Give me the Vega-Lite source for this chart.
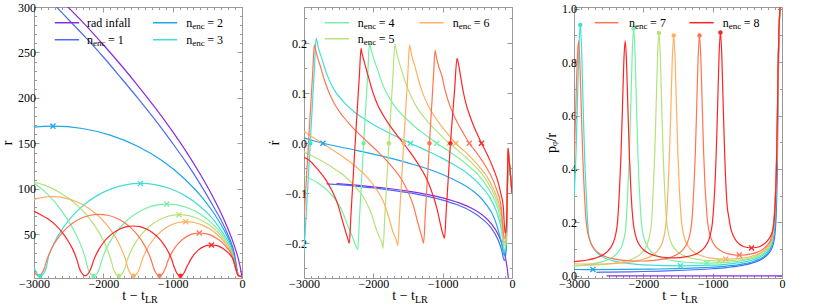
{
"$schema":"https://vega.github.io/schema/vega-lite/v6.json",
"background":"white",
"padding":{"left":0,"top":0,"right":5,"bottom":0},
"datasets":{
"orb":[
{"s":"rad","t":-2530,"r":301.5,"rd":-0.0808,"pp":0},{"s":"rad","t":-2250,"r":279.6,"rd":-0.084,"pp":0},{"s":"rad","t":-2000,"r":258.5,"rd":-0.0873,"pp":0},{"s":"rad","t":-1750,"r":236.5,"rd":-0.0912,"pp":0},{"s":"rad","t":-1500,"r":213.4,"rd":-0.0959,"pp":0},{"s":"rad","t":-1250,"r":189,"rd":-0.1018,"pp":0},{"s":"rad","t":-1000,"r":162.9,"rd":-0.1094,"pp":0},{"s":"rad","t":-800,"r":140.4,"rd":-0.1177,"pp":0},{"s":"rad","t":-600,"r":115.8,"rd":-0.1291,"pp":0},{"s":"rad","t":-400,"r":88.4,"rd":-0.147,"pp":0},{"s":"rad","t":-300,"r":73,"rd":-0.161,"pp":0},{"s":"rad","t":-200,"r":55.7,"rd":-0.1827,"pp":0},{"s":"rad","t":-150,"r":46,"rd":-0.1994,"pp":0},{"s":"rad","t":-100,"r":35.1,"rd":-0.2251,"pp":0},{"s":"rad","t":-70,"r":27.7,"rd":-0.2494,"pp":0},{"s":"rad","t":-50,"r":22.1,"rd":-0.2736,"pp":0},{"s":"rad","t":-30,"r":15.5,"rd":-0.3,"pp":0},{"s":"rad","t":-15,"r":9.5,"rd":-0.32,"pp":0},{"s":"rad","t":0,"r":3,"rd":-0.33,"pp":0},
{"s":"n1","t":-2675,"r":300,"rd":-0.0815,"pp":0.0133},{"s":"n1","t":-2500,"r":286,"rd":-0.083,"pp":0.014},{"s":"n1","t":-2250,"r":266,"rd":-0.0861,"pp":0.015},{"s":"n1","t":-2000,"r":245,"rd":-0.0896,"pp":0.0163},{"s":"n1","t":-1750,"r":222.5,"rd":-0.094,"pp":0.018},{"s":"n1","t":-1500,"r":199.5,"rd":-0.0991,"pp":0.02},{"s":"n1","t":-1250,"r":175.5,"rd":-0.1055,"pp":0.0228},{"s":"n1","t":-1000,"r":150,"rd":-0.1139,"pp":0.0267},{"s":"n1","t":-800,"r":128.5,"rd":-0.1228,"pp":0.0311},{"s":"n1","t":-600,"r":105,"rd":-0.1354,"pp":0.0381},{"s":"n1","t":-400,"r":79,"rd":-0.1551,"pp":0.0506},{"s":"n1","t":-300,"r":65.5,"rd":-0.1694,"pp":0.0611},{"s":"n1","t":-200,"r":49,"rd":-0.1938,"pp":0.0816},{"s":"n1","t":-150,"r":39.5,"rd":-0.2136,"pp":0.101},{"s":"n1","t":-110,"r":29,"rd":-0.235,"pp":0.138},{"s":"n1","t":-85,"r":18,"rd":-0.215,"pp":0.222},{"s":"n1","t":-68,"r":10,"rd":-0.12,"pp":0.4},{"s":"n1","t":-57,"r":6,"rd":-0.02,"pp":0.667},{"s":"n1","t":-45,"r":4.5,"rd":-0.03,"pp":0.889},{"s":"n1","t":-30,"r":4,"rd":-0.05,"pp":1},{"s":"n1","t":-15,"r":3.6,"rd":-0.075,"pp":1.111},{"s":"n1","t":0,"r":3,"rd":-0.1,"pp":1.333},
{"s":"n2","t":-3000,"r":167.9,"rd":0.011,"pp":0.0238},{"s":"n2","t":-2860,"r":168.8,"rd":0.005,"pp":0.0237},{"s":"n2","t":-2727,"r":169,"rd":0,"pp":0.0237},{"s":"n2","t":-2302,"r":166.4,"rd":-0.0125,"pp":0.024},{"s":"n2","t":-1891,"r":158.9,"rd":-0.0253,"pp":0.0252},{"s":"n2","t":-1505,"r":146.9,"rd":-0.0393,"pp":0.0272},{"s":"n2","t":-1155,"r":131.1,"rd":-0.0542,"pp":0.0305},{"s":"n2","t":-850,"r":112.5,"rd":-0.0723,"pp":0.0356},{"s":"n2","t":-595,"r":92.3,"rd":-0.0924,"pp":0.0433},{"s":"n2","t":-393,"r":71.8,"rd":-0.1188,"pp":0.0557},{"s":"n2","t":-243,"r":52.2,"rd":-0.1545,"pp":0.0766},{"s":"n2","t":-159,"r":38,"rd":-0.195,"pp":0.105},{"s":"n2","t":-110,"r":24,"rd":-0.225,"pp":0.167},{"s":"n2","t":-85,"r":14,"rd":-0.205,"pp":0.286},{"s":"n2","t":-68,"r":8,"rd":-0.1,"pp":0.5},{"s":"n2","t":-57,"r":5.4,"rd":-0.01,"pp":0.741},{"s":"n2","t":-45,"r":4.4,"rd":-0.03,"pp":0.909},{"s":"n2","t":-30,"r":4,"rd":-0.05,"pp":1},{"s":"n2","t":-15,"r":3.6,"rd":-0.075,"pp":1.111},{"s":"n2","t":0,"r":3,"rd":-0.1,"pp":1.333},
{"s":"n3","t":-3000,"r":13.8,"rd":-0.22,"pp":0.29},{"s":"n3","t":-2970,"r":8.49,"rd":-0.147,"pp":0.471},{"s":"n3","t":-2950,"r":6.14,"rd":-0.098,"pp":0.651},{"s":"n3","t":-2930,"r":4.73,"rd":-0.049,"pp":0.846},{"s":"n3","t":-2910,"r":4.26,"rd":0,"pp":0.939},{"s":"n3","t":-2890,"r":4.73,"rd":0.05,"pp":0.846},{"s":"n3","t":-2870,"r":6.14,"rd":0.1,"pp":0.651},{"s":"n3","t":-2850,"r":8.49,"rd":0.15,"pp":0.471},{"s":"n3","t":-2825,"r":12.76,"rd":0.21,"pp":0.313},{"s":"n3","t":-2791,"r":25.2,"rd":0.19,"pp":0.159},{"s":"n3","t":-2748,"r":34,"rd":0.172,"pp":0.118},{"s":"n3","t":-2670,"r":46.1,"rd":0.138,"pp":0.0868},{"s":"n3","t":-2566,"r":58.7,"rd":0.1075,"pp":0.0681},{"s":"n3","t":-2435,"r":71.2,"rd":0.0841,"pp":0.0562},{"s":"n3","t":-2277,"r":82.6,"rd":0.063,"pp":0.0484},{"s":"n3","t":-2096,"r":92.3,"rd":0.0457,"pp":0.0433},{"s":"n3","t":-1897,"r":99.7,"rd":0.0295,"pp":0.0401},{"s":"n3","t":-1684,"r":104.4,"rd":0.0145,"pp":0.0383},{"s":"n3","t":-1465,"r":106,"rd":0,"pp":0.0377},{"s":"n3","t":-1240,"r":104.4,"rd":-0.0142,"pp":0.0383},{"s":"n3","t":-1022,"r":99.8,"rd":-0.0288,"pp":0.0401},{"s":"n3","t":-818,"r":92.3,"rd":-0.0447,"pp":0.0433},{"s":"n3","t":-633,"r":82.6,"rd":-0.0616,"pp":0.0484},{"s":"n3","t":-471,"r":71.1,"rd":-0.0822,"pp":0.0563},{"s":"n3","t":-336,"r":58.6,"rd":-0.1051,"pp":0.0683},{"s":"n3","t":-229,"r":45.9,"rd":-0.1351,"pp":0.0871},{"s":"n3","t":-150,"r":33.8,"rd":-0.1757,"pp":0.118},{"s":"n3","t":-110,"r":21,"rd":-0.22,"pp":0.19},{"s":"n3","t":-85,"r":12.5,"rd":-0.2,"pp":0.32},{"s":"n3","t":-68,"r":7.5,"rd":-0.1,"pp":0.533},{"s":"n3","t":-57,"r":5.3,"rd":-0.01,"pp":0.755},{"s":"n3","t":-45,"r":4.4,"rd":-0.03,"pp":0.909},{"s":"n3","t":-30,"r":4,"rd":-0.05,"pp":1},{"s":"n3","t":-15,"r":3.6,"rd":-0.075,"pp":1.111},{"s":"n3","t":0,"r":3,"rd":-0.1,"pp":1.333},
{"s":"n4","t":-3000,"r":106.5,"rd":-0.065,"pp":0.0376},{"s":"n4","t":-2805,"r":94.2,"rd":-0.0792,"pp":0.0425},{"s":"n4","t":-2617,"r":77.5,"rd":-0.1012,"pp":0.0516},{"s":"n4","t":-2469,"r":60.5,"rd":-0.13,"pp":0.0661},{"s":"n4","t":-2358,"r":44.2,"rd":-0.169,"pp":0.0905},{"s":"n4","t":-2296,"r":32.4,"rd":-0.19,"pp":0.1235},{"s":"n4","t":-2254,"r":22.3,"rd":-0.205,"pp":0.179},{"s":"n4","t":-2225,"r":12.8,"rd":-0.213,"pp":0.3125},{"s":"n4","t":-2200,"r":8.55,"rd":-0.15,"pp":0.468},{"s":"n4","t":-2180,"r":6.2,"rd":-0.1,"pp":0.645},{"s":"n4","t":-2160,"r":4.79,"rd":-0.05,"pp":0.835},{"s":"n4","t":-2140,"r":4.32,"rd":0,"pp":0.926},{"s":"n4","t":-2120,"r":4.79,"rd":0.047,"pp":0.835},{"s":"n4","t":-2100,"r":6.2,"rd":0.094,"pp":0.645},{"s":"n4","t":-2080,"r":8.55,"rd":0.141,"pp":0.468},{"s":"n4","t":-2055,"r":12.8,"rd":0.2,"pp":0.3125},{"s":"n4","t":-2026,"r":20.6,"rd":0.185,"pp":0.194},{"s":"n4","t":-1995,"r":27.4,"rd":0.17,"pp":0.146},{"s":"n4","t":-1940,"r":36.8,"rd":0.148,"pp":0.109},{"s":"n4","t":-1866,"r":46.6,"rd":0.1176,"pp":0.0858},{"s":"n4","t":-1773,"r":56.3,"rd":0.092,"pp":0.071},{"s":"n4","t":-1661,"r":65.2,"rd":0.0689,"pp":0.0613},{"s":"n4","t":-1533,"r":72.7,"rd":0.05,"pp":0.055},{"s":"n4","t":-1391,"r":78.5,"rd":0.0322,"pp":0.051},{"s":"n4","t":-1241,"r":82.1,"rd":0.0159,"pp":0.0487},{"s":"n4","t":-1085,"r":83.3,"rd":0,"pp":0.048},{"s":"n4","t":-920,"r":82.1,"rd":-0.0151,"pp":0.0487},{"s":"n4","t":-761,"r":78.4,"rd":-0.0306,"pp":0.051},{"s":"n4","t":-611,"r":72.7,"rd":-0.0474,"pp":0.055},{"s":"n4","t":-475,"r":65.1,"rd":-0.0654,"pp":0.0614},{"s":"n4","t":-357,"r":56.2,"rd":-0.0873,"pp":0.0712},{"s":"n4","t":-258,"r":46.5,"rd":-0.1116,"pp":0.086},{"s":"n4","t":-180,"r":36.6,"rd":-0.1434,"pp":0.109},{"s":"n4","t":-140,"r":28.5,"rd":-0.18,"pp":0.14},{"s":"n4","t":-110,"r":19,"rd":-0.215,"pp":0.21},{"s":"n4","t":-85,"r":11.5,"rd":-0.195,"pp":0.348},{"s":"n4","t":-68,"r":7.3,"rd":-0.1,"pp":0.548},{"s":"n4","t":-57,"r":5.2,"rd":-0.01,"pp":0.769},{"s":"n4","t":-45,"r":4.4,"rd":-0.03,"pp":0.909},{"s":"n4","t":-30,"r":4,"rd":-0.05,"pp":1},{"s":"n4","t":-15,"r":3.6,"rd":-0.075,"pp":1.111},{"s":"n4","t":0,"r":3,"rd":-0.1,"pp":1.333},
{"s":"n5","t":-3000,"r":107.4,"rd":-0.017,"pp":0.0372},{"s":"n5","t":-2813,"r":103,"rd":-0.03,"pp":0.0388},{"s":"n5","t":-2611,"r":95.3,"rd":-0.0466,"pp":0.042},{"s":"n5","t":-2428,"r":85.3,"rd":-0.0642,"pp":0.0469},{"s":"n5","t":-2268,"r":73.5,"rd":-0.0857,"pp":0.0544},{"s":"n5","t":-2135,"r":60.6,"rd":-0.1096,"pp":0.066},{"s":"n5","t":-2029,"r":47.5,"rd":-0.1408,"pp":0.0842},{"s":"n5","t":-1951,"r":35,"rd":-0.175,"pp":0.114},{"s":"n5","t":-1907,"r":26,"rd":-0.19,"pp":0.154},{"s":"n5","t":-1876,"r":18.2,"rd":-0.2,"pp":0.22},{"s":"n5","t":-1860,"r":12.9,"rd":-0.21,"pp":0.31},{"s":"n5","t":-1835,"r":8.63,"rd":-0.148,"pp":0.463},{"s":"n5","t":-1815,"r":6.28,"rd":-0.099,"pp":0.637},{"s":"n5","t":-1795,"r":4.87,"rd":-0.049,"pp":0.821},{"s":"n5","t":-1775,"r":4.4,"rd":0,"pp":0.909},{"s":"n5","t":-1755,"r":4.87,"rd":0.047,"pp":0.821},{"s":"n5","t":-1735,"r":6.28,"rd":0.093,"pp":0.637},{"s":"n5","t":-1715,"r":8.63,"rd":0.14,"pp":0.463},{"s":"n5","t":-1690,"r":12.9,"rd":0.198,"pp":0.31},{"s":"n5","t":-1669,"r":18.2,"rd":0.185,"pp":0.22},{"s":"n5","t":-1644,"r":24,"rd":0.17,"pp":0.167},{"s":"n5","t":-1600,"r":32,"rd":0.15,"pp":0.125},{"s":"n5","t":-1540,"r":40.4,"rd":0.1235,"pp":0.099},{"s":"n5","t":-1464,"r":48.6,"rd":0.0967,"pp":0.0823},{"s":"n5","t":-1374,"r":56.2,"rd":0.0724,"pp":0.0712},{"s":"n5","t":-1270,"r":62.6,"rd":0.0525,"pp":0.0639},{"s":"n5","t":-1155,"r":67.5,"rd":0.0339,"pp":0.0593},{"s":"n5","t":-1033,"r":70.6,"rd":0.0167,"pp":0.0567},{"s":"n5","t":-907,"r":71.6,"rd":0,"pp":0.0559},{"s":"n5","t":-771,"r":70.6,"rd":-0.0155,"pp":0.0567},{"s":"n5","t":-638,"r":67.5,"rd":-0.0315,"pp":0.0593},{"s":"n5","t":-514,"r":62.5,"rd":-0.0488,"pp":0.064},{"s":"n5","t":-402,"r":56.1,"rd":-0.0673,"pp":0.0713},{"s":"n5","t":-304,"r":48.5,"rd":-0.0898,"pp":0.0825},{"s":"n5","t":-222,"r":40.2,"rd":-0.1148,"pp":0.0995},{"s":"n5","t":-157,"r":31.8,"rd":-0.1475,"pp":0.126},{"s":"n5","t":-110,"r":18,"rd":-0.205,"pp":0.222},{"s":"n5","t":-85,"r":11,"rd":-0.19,"pp":0.364},{"s":"n5","t":-68,"r":7.2,"rd":-0.1,"pp":0.556},{"s":"n5","t":-57,"r":5.2,"rd":-0.01,"pp":0.769},{"s":"n5","t":-45,"r":4.4,"rd":-0.03,"pp":0.909},{"s":"n5","t":-30,"r":4,"rd":-0.05,"pp":1},{"s":"n5","t":-15,"r":3.6,"rd":-0.075,"pp":1.111},{"s":"n5","t":0,"r":3,"rd":-0.1,"pp":1.333},
{"s":"n6","t":-3000,"r":88.3,"rd":0.024,"pp":0.0453},{"s":"n6","t":-2911,"r":90.1,"rd":0.0157,"pp":0.0444},{"s":"n6","t":-2737,"r":91.4,"rd":0,"pp":0.0438},{"s":"n6","t":-2562,"r":90.1,"rd":-0.0156,"pp":0.0444},{"s":"n6","t":-2393,"r":86.1,"rd":-0.0316,"pp":0.0465},{"s":"n6","t":-2234,"r":79.8,"rd":-0.0491,"pp":0.0501},{"s":"n6","t":-2090,"r":71.5,"rd":-0.0677,"pp":0.0559},{"s":"n6","t":-1965,"r":61.7,"rd":-0.0903,"pp":0.0648},{"s":"n6","t":-1860,"r":51,"rd":-0.1154,"pp":0.0784},{"s":"n6","t":-1777,"r":40.2,"rd":-0.1484,"pp":0.0995},{"s":"n6","t":-1716,"r":29.9,"rd":-0.178,"pp":0.134},{"s":"n6","t":-1681,"r":22.4,"rd":-0.19,"pp":0.179},{"s":"n6","t":-1657,"r":15.9,"rd":-0.2,"pp":0.252},{"s":"n6","t":-1647,"r":13,"rd":-0.205,"pp":0.308},{"s":"n6","t":-1622,"r":8.68,"rd":-0.145,"pp":0.461},{"s":"n6","t":-1602,"r":6.33,"rd":-0.096,"pp":0.632},{"s":"n6","t":-1582,"r":4.92,"rd":-0.048,"pp":0.813},{"s":"n6","t":-1562,"r":4.45,"rd":0,"pp":0.899},{"s":"n6","t":-1542,"r":4.92,"rd":0.047,"pp":0.813},{"s":"n6","t":-1522,"r":6.33,"rd":0.093,"pp":0.632},{"s":"n6","t":-1502,"r":8.68,"rd":0.14,"pp":0.461},{"s":"n6","t":-1478,"r":12.8,"rd":0.197,"pp":0.3125},{"s":"n6","t":-1461,"r":16.7,"rd":0.185,"pp":0.24},{"s":"n6","t":-1440,"r":21.8,"rd":0.172,"pp":0.183},{"s":"n6","t":-1402,"r":28.9,"rd":0.155,"pp":0.138},{"s":"n6","t":-1351,"r":36.3,"rd":0.1283,"pp":0.11},{"s":"n6","t":-1287,"r":43.5,"rd":0.1004,"pp":0.092},{"s":"n6","t":-1209,"r":50.2,"rd":0.0752,"pp":0.0797},{"s":"n6","t":-1121,"r":55.9,"rd":0.0545,"pp":0.0716},{"s":"n6","t":-1023,"r":60.3,"rd":0.0352,"pp":0.0663},{"s":"n6","t":-919,"r":63,"rd":0.0173,"pp":0.0635},{"s":"n6","t":-812,"r":63.9,"rd":0,"pp":0.0626},{"s":"n6","t":-691,"r":63,"rd":-0.0154,"pp":0.0635},{"s":"n6","t":-573,"r":60.2,"rd":-0.0313,"pp":0.0664},{"s":"n6","t":-462,"r":55.9,"rd":-0.0486,"pp":0.0716},{"s":"n6","t":-362,"r":50.1,"rd":-0.067,"pp":0.0798},{"s":"n6","t":-275,"r":43.4,"rd":-0.0895,"pp":0.0922},{"s":"n6","t":-202,"r":36.1,"rd":-0.1143,"pp":0.111},{"s":"n6","t":-144,"r":28.6,"rd":-0.147,"pp":0.14},{"s":"n6","t":-110,"r":18,"rd":-0.2,"pp":0.222},{"s":"n6","t":-85,"r":11,"rd":-0.185,"pp":0.364},{"s":"n6","t":-68,"r":7.2,"rd":-0.1,"pp":0.556},{"s":"n6","t":-57,"r":5.2,"rd":-0.01,"pp":0.769},{"s":"n6","t":-45,"r":4.4,"rd":-0.03,"pp":0.909},{"s":"n6","t":-30,"r":4,"rd":-0.05,"pp":1},{"s":"n6","t":-15,"r":3.6,"rd":-0.075,"pp":1.111},{"s":"n6","t":0,"r":3,"rd":-0.1,"pp":1.333},
{"s":"n7","t":-3000,"r":9.52,"rd":-0.153,"pp":0.42},{"s":"n7","t":-2975,"r":6.43,"rd":-0.094,"pp":0.622},{"s":"n7","t":-2955,"r":5.02,"rd":-0.047,"pp":0.797},{"s":"n7","t":-2935,"r":4.55,"rd":0,"pp":0.879},{"s":"n7","t":-2915,"r":5.02,"rd":0.047,"pp":0.797},{"s":"n7","t":-2895,"r":6.43,"rd":0.094,"pp":0.622},{"s":"n7","t":-2875,"r":8.78,"rd":0.141,"pp":0.456},{"s":"n7","t":-2850,"r":13.05,"rd":0.197,"pp":0.307},{"s":"n7","t":-2829,"r":18.4,"rd":0.185,"pp":0.217},{"s":"n7","t":-2804,"r":24.2,"rd":0.172,"pp":0.165},{"s":"n7","t":-2759,"r":32.3,"rd":0.152,"pp":0.124},{"s":"n7","t":-2699,"r":40.7,"rd":0.1237,"pp":0.0983},{"s":"n7","t":-2624,"r":48.9,"rd":0.0968,"pp":0.0818},{"s":"n7","t":-2533,"r":56.5,"rd":0.0725,"pp":0.0708},{"s":"n7","t":-2429,"r":63,"rd":0.0526,"pp":0.0635},{"s":"n7","t":-2314,"r":67.9,"rd":0.0339,"pp":0.0589},{"s":"n7","t":-2191,"r":71,"rd":0.0167,"pp":0.0563},{"s":"n7","t":-2065,"r":72,"rd":0,"pp":0.0556},{"s":"n7","t":-1938,"r":71,"rd":-0.0166,"pp":0.0563},{"s":"n7","t":-1815,"r":67.9,"rd":-0.0337,"pp":0.0589},{"s":"n7","t":-1699,"r":63,"rd":-0.0523,"pp":0.0635},{"s":"n7","t":-1594,"r":56.5,"rd":-0.0722,"pp":0.0708},{"s":"n7","t":-1503,"r":48.9,"rd":-0.0963,"pp":0.0818},{"s":"n7","t":-1427,"r":40.6,"rd":-0.1231,"pp":0.0985},{"s":"n7","t":-1366,"r":32.2,"rd":-0.155,"pp":0.124},{"s":"n7","t":-1321,"r":24.2,"rd":-0.178,"pp":0.165},{"s":"n7","t":-1296,"r":18.4,"rd":-0.19,"pp":0.217},{"s":"n7","t":-1275,"r":12.95,"rd":-0.2,"pp":0.309},{"s":"n7","t":-1250,"r":8.68,"rd":-0.141,"pp":0.461},{"s":"n7","t":-1230,"r":6.33,"rd":-0.094,"pp":0.632},{"s":"n7","t":-1210,"r":4.92,"rd":-0.047,"pp":0.813},{"s":"n7","t":-1190,"r":4.45,"rd":0,"pp":0.899},{"s":"n7","t":-1170,"r":4.92,"rd":0.047,"pp":0.813},{"s":"n7","t":-1150,"r":6.33,"rd":0.093,"pp":0.632},{"s":"n7","t":-1130,"r":8.68,"rd":0.14,"pp":0.461},{"s":"n7","t":-1110,"r":12,"rd":0.186,"pp":0.333},{"s":"n7","t":-1097,"r":14.2,"rd":0.178,"pp":0.282},{"s":"n7","t":-1081,"r":18.2,"rd":0.167,"pp":0.22},{"s":"n7","t":-1053,"r":23.8,"rd":0.152,"pp":0.168},{"s":"n7","t":-1015,"r":29.6,"rd":0.1371,"pp":0.135},{"s":"n7","t":-967,"r":35.4,"rd":0.1073,"pp":0.113},{"s":"n7","t":-910,"r":40.7,"rd":0.0804,"pp":0.0983},{"s":"n7","t":-845,"r":45.2,"rd":0.0583,"pp":0.0885},{"s":"n7","t":-773,"r":48.6,"rd":0.0376,"pp":0.0823},{"s":"n7","t":-695,"r":50.8,"rd":0.0185,"pp":0.0787},{"s":"n7","t":-616,"r":51.5,"rd":0,"pp":0.0777},{"s":"n7","t":-526,"r":50.8,"rd":-0.0164,"pp":0.0787},{"s":"n7","t":-438,"r":48.6,"rd":-0.0334,"pp":0.0823},{"s":"n7","t":-356,"r":45.1,"rd":-0.0517,"pp":0.0887},{"s":"n7","t":-281,"r":40.6,"rd":-0.0714,"pp":0.0985},{"s":"n7","t":-216,"r":35.2,"rd":-0.0953,"pp":0.114},{"s":"n7","t":-162,"r":29.4,"rd":-0.1218,"pp":0.136},{"s":"n7","t":-110,"r":17,"rd":-0.19,"pp":0.235},{"s":"n7","t":-85,"r":10.5,"rd":-0.175,"pp":0.381},{"s":"n7","t":-68,"r":7,"rd":-0.1,"pp":0.571},{"s":"n7","t":-57,"r":5.2,"rd":-0.01,"pp":0.769},{"s":"n7","t":-45,"r":4.4,"rd":-0.03,"pp":0.909},{"s":"n7","t":-30,"r":4,"rd":-0.05,"pp":1},{"s":"n7","t":-15,"r":3.6,"rd":-0.075,"pp":1.111},{"s":"n7","t":0,"r":3,"rd":-0.1,"pp":1.333},
{"s":"n8","t":-3000,"r":75.5,"rd":-0.028,"pp":0.053},{"s":"n8","t":-2930,"r":72.6,"rd":-0.0335,"pp":0.0551},{"s":"n8","t":-2805,"r":67.3,"rd":-0.052,"pp":0.0594},{"s":"n8","t":-2692,"r":60.4,"rd":-0.0718,"pp":0.0662},{"s":"n8","t":-2594,"r":52.2,"rd":-0.0958,"pp":0.0766},{"s":"n8","t":-2512,"r":43.3,"rd":-0.1224,"pp":0.0924},{"s":"n8","t":-2446,"r":34.3,"rd":-0.155,"pp":0.117},{"s":"n8","t":-2398,"r":25.7,"rd":-0.178,"pp":0.156},{"s":"n8","t":-2371,"r":19.5,"rd":-0.19,"pp":0.205},{"s":"n8","t":-2347,"r":13,"rd":-0.2,"pp":0.308},{"s":"n8","t":-2322,"r":8.78,"rd":-0.141,"pp":0.456},{"s":"n8","t":-2302,"r":6.43,"rd":-0.094,"pp":0.622},{"s":"n8","t":-2282,"r":5.02,"rd":-0.047,"pp":0.797},{"s":"n8","t":-2262,"r":4.55,"rd":0,"pp":0.879},{"s":"n8","t":-2242,"r":5.02,"rd":0.045,"pp":0.797},{"s":"n8","t":-2222,"r":6.43,"rd":0.089,"pp":0.622},{"s":"n8","t":-2202,"r":8.78,"rd":0.134,"pp":0.456},{"s":"n8","t":-2177,"r":13.05,"rd":0.19,"pp":0.307},{"s":"n8","t":-2164,"r":15.8,"rd":0.18,"pp":0.253},{"s":"n8","t":-2144,"r":20.5,"rd":0.17,"pp":0.195},{"s":"n8","t":-2109,"r":27,"rd":0.152,"pp":0.148},{"s":"n8","t":-2062,"r":33.8,"rd":0.1284,"pp":0.118},{"s":"n8","t":-2003,"r":40.5,"rd":0.1005,"pp":0.0988},{"s":"n8","t":-1932,"r":46.6,"rd":0.0753,"pp":0.0858},{"s":"n8","t":-1851,"r":51.9,"rd":0.0546,"pp":0.0771},{"s":"n8","t":-1761,"r":55.9,"rd":0.0352,"pp":0.0716},{"s":"n8","t":-1666,"r":58.4,"rd":0.0173,"pp":0.0685},{"s":"n8","t":-1567,"r":59.2,"rd":0,"pp":0.0676},{"s":"n8","t":-1471,"r":58.4,"rd":-0.0178,"pp":0.0685},{"s":"n8","t":-1378,"r":55.8,"rd":-0.0362,"pp":0.0717},{"s":"n8","t":-1290,"r":51.8,"rd":-0.0561,"pp":0.0772},{"s":"n8","t":-1211,"r":46.6,"rd":-0.0775,"pp":0.0858},{"s":"n8","t":-1142,"r":40.4,"rd":-0.1034,"pp":0.099},{"s":"n8","t":-1084,"r":33.7,"rd":-0.13,"pp":0.119},{"s":"n8","t":-1039,"r":26.9,"rd":-0.158,"pp":0.149},{"s":"n8","t":-1005,"r":20.4,"rd":-0.178,"pp":0.196},{"s":"n8","t":-986,"r":15.7,"rd":-0.186,"pp":0.255},{"s":"n8","t":-973,"r":12.9,"rd":-0.19,"pp":0.31},{"s":"n8","t":-948,"r":8.62,"rd":-0.134,"pp":0.464},{"s":"n8","t":-928,"r":6.27,"rd":-0.089,"pp":0.638},{"s":"n8","t":-908,"r":4.86,"rd":-0.045,"pp":0.823},{"s":"n8","t":-888,"r":4.39,"rd":0,"pp":0.911},{"s":"n8","t":-868,"r":4.86,"rd":0.036,"pp":0.823},{"s":"n8","t":-848,"r":6.27,"rd":0.072,"pp":0.638},{"s":"n8","t":-828,"r":8.6,"rd":0.107,"pp":0.465},{"s":"n8","t":-793,"r":14.9,"rd":0.17,"pp":0.268},{"s":"n8","t":-767,"r":18.3,"rd":0.155,"pp":0.219},{"s":"n8","t":-739,"r":22.5,"rd":0.132,"pp":0.178},{"s":"n8","t":-703,"r":26.7,"rd":0.1032,"pp":0.15},{"s":"n8","t":-660,"r":30.5,"rd":0.0774,"pp":0.131},{"s":"n8","t":-611,"r":33.8,"rd":0.0561,"pp":0.118},{"s":"n8","t":-557,"r":36.2,"rd":0.0362,"pp":0.11},{"s":"n8","t":-500,"r":37.8,"rd":0.0178,"pp":0.106},{"s":"n8","t":-440,"r":38.3,"rd":0,"pp":0.1044},{"s":"n8","t":-377,"r":37.8,"rd":-0.0171,"pp":0.106},{"s":"n8","t":-317,"r":36.2,"rd":-0.0348,"pp":0.11},{"s":"n8","t":-260,"r":33.7,"rd":-0.054,"pp":0.119},{"s":"n8","t":-208,"r":30.4,"rd":-0.0745,"pp":0.132},{"s":"n8","t":-163,"r":26.6,"rd":-0.0994,"pp":0.15},{"s":"n8","t":-126,"r":22.4,"rd":-0.127,"pp":0.179},{"s":"n8","t":-100,"r":15.5,"rd":-0.18,"pp":0.258},{"s":"n8","t":-80,"r":10,"rd":-0.165,"pp":0.4},{"s":"n8","t":-68,"r":7,"rd":-0.1,"pp":0.571},{"s":"n8","t":-57,"r":5.2,"rd":-0.01,"pp":0.769},{"s":"n8","t":-45,"r":4.4,"rd":-0.03,"pp":0.909},{"s":"n8","t":-30,"r":4,"rd":-0.05,"pp":1},{"s":"n8","t":-15,"r":3.6,"rd":-0.075,"pp":1.111},{"s":"n8","t":0,"r":3,"rd":-0.1,"pp":1.333}
],
"mk":[
{"s":"n2","k":"apo","t":-2727,"r":169,"rd":0,"pp":0.0237},{"s":"n3","k":"apo","t":-1465,"r":106,"rd":0,"pp":0.0377},{"s":"n4","k":"apo","t":-1085,"r":83.3,"rd":0,"pp":0.048},{"s":"n5","k":"apo","t":-907,"r":71.6,"rd":0,"pp":0.0559},{"s":"n6","k":"apo","t":-812,"r":63.9,"rd":0,"pp":0.0626},{"s":"n7","k":"apo","t":-616,"r":51.5,"rd":0,"pp":0.0777},{"s":"n8","k":"apo","t":-440,"r":38.3,"rd":0,"pp":0.1044},
{"s":"n3","k":"peri","t":-2910,"r":4.26,"rd":0,"pp":0.939},{"s":"n4","k":"peri","t":-2140,"r":4.32,"rd":0,"pp":0.926},{"s":"n5","k":"peri","t":-1775,"r":4.4,"rd":0,"pp":0.909},{"s":"n6","k":"peri","t":-1562,"r":4.45,"rd":0,"pp":0.899},{"s":"n7","k":"peri","t":-1190,"r":4.45,"rd":0,"pp":0.899},{"s":"n8","k":"peri","t":-888,"r":4.39,"rd":0,"pp":0.911}
],
"leg":[
{"p":1,"s":"rad","x1":-2700,"x2":-2350,"tx":-2235,"y":282.7,"lab":"rad infall","eq":""},
{"p":1,"s":"n1","x1":-2700,"x2":-2350,"tx":-2235,"y":264,"lab":"n","eq":"= 1"},
{"p":1,"s":"n2","x1":-1285,"x2":-935,"tx":-805,"y":282.7,"lab":"n","eq":"= 2"},
{"p":1,"s":"n3","x1":-1285,"x2":-935,"tx":-805,"y":264,"lab":"n","eq":"= 3"},
{"p":2,"s":"n4","x1":-2700,"x2":-2350,"tx":-2225,"y":0.2415,"lab":"n","eq":"= 4"},
{"p":2,"s":"n5","x1":-2700,"x2":-2350,"tx":-2225,"y":0.2094,"lab":"n","eq":"= 5"},
{"p":2,"s":"n6","x1":-1335,"x2":-985,"tx":-855,"y":0.2415,"lab":"n","eq":"= 6"},
{"p":3,"s":"n7","x1":-2700,"x2":-2360,"tx":-2205,"y":0.9473,"lab":"n","eq":"= 7"},
{"p":3,"s":"n8","x1":-1335,"x2":-985,"tx":-855,"y":0.9473,"lab":"n","eq":"= 8"}
]
},
"spacing":62,
"bounds":"flush",
"hconcat":[
{"width":208,"height":271,
"layer":[
{"data":{"name":"orb"},"mark":{"type":"line","interpolate":"monotone","strokeWidth":1.2,"clip":true},
"encoding":{
"x":{"field":"t","type":"quantitative","scale":{"domain":[-3000,0],"nice":false,"zero":false},
"axis":{"orient":"bottom","title":null,"values":[-3000,-2900,-2800,-2700,-2600,-2500,-2400,-2300,-2200,-2100,-2000,-1900,-1800,-1700,-1600,-1500,-1400,-1300,-1200,-1100,-1000,-900,-800,-700,-600,-500,-400,-300,-200,-100,0],"format":"d","labelExpr":"datum.value % 1000 === 0 ? datum.label : ''","tickSize":{"condition":{"test":"datum.value % 1000 === 0","value":-5},"value":-2.5},"labelPadding":5}},
"y":{"field":"r","type":"quantitative","scale":{"domain":[2,300],"nice":false,"zero":false},
"axis":{"orient":"left","title":"r","values":[10,20,30,40,50,60,70,80,90,100,110,120,130,140,150,160,170,180,190,200,210,220,230,240,250,260,270,280,290,300],"format":"d","labelExpr":"datum.value % 50 === 0 ? datum.label : ''","tickSize":{"condition":{"test":"datum.value % 50 === 0","value":-5},"value":-2.5},"labelPadding":3.5,"titlePadding":3}},
"color":{"field":"s","type":"nominal","scale":{"domain":["rad","n1","n2","n3","n4","n5","n6","n7","n8"],"range":["#8a2be2","#4a6cf0","#1ea5ea","#3fe0d4","#76f0a6","#b5e37a","#ffb061","#ff7452","#ff2424"]},"legend":null}}},
{"data":{"name":"mk"},"transform":[{"filter":"datum.k === 'apo'"}],"mark":{"type":"point","shape":"M-1,-1L1,1M-1,1L1,-1","size":26,"strokeWidth":1.3,"filled":false,"opacity":1},
"encoding":{
"x":{"field":"t","type":"quantitative","axis":{"orient":"top","title":null,"labels":false,"minExtent":0,"maxExtent":0,"values":[-3000,-2900,-2800,-2700,-2600,-2500,-2400,-2300,-2200,-2100,-2000,-1900,-1800,-1700,-1600,-1500,-1400,-1300,-1200,-1100,-1000,-900,-800,-700,-600,-500,-400,-300,-200,-100,0],"tickSize":{"condition":{"test":"datum.value % 1000 === 0","value":-5},"value":-2.5}}},
"y":{"field":"r","type":"quantitative","axis":{"orient":"right","title":null,"labels":false,"minExtent":0,"maxExtent":0,"values":[10,20,30,40,50,60,70,80,90,100,110,120,130,140,150,160,170,180,190,200,210,220,230,240,250,260,270,280,290,300],"tickSize":{"condition":{"test":"datum.value % 50 === 0","value":-5},"value":-2.5}}},
"color":{"field":"s","type":"nominal","legend":null}}},
{"data":{"name":"mk"},"transform":[{"filter":"datum.k === 'peri'"}],"mark":{"type":"circle","size":20,"opacity":1},
"encoding":{"x":{"field":"t","type":"quantitative","axis":null},"y":{"field":"r","type":"quantitative","axis":null},"color":{"field":"s","type":"nominal","legend":null}}},
{"data":{"name":"leg"},"transform":[{"filter":"datum.p === 1"}],"mark":{"type":"rule","strokeWidth":1.5},
"encoding":{"x":{"field":"x1","type":"quantitative","axis":null},"x2":{"field":"x2"},"y":{"field":"y","type":"quantitative","axis":null},"color":{"field":"s","type":"nominal","legend":null}}},
{"data":{"name":"leg"},"transform":[{"filter":"datum.p === 1"}],"mark":{"type":"text","align":"left","baseline":"middle","fontSize":12},
"encoding":{"x":{"field":"tx","type":"quantitative","axis":null},"y":{"field":"y","type":"quantitative","axis":null},"text":{"field":"lab"}}},
{"data":{"name":"leg"},"transform":[{"filter":"datum.p === 1 && datum.eq !== ''"}],"mark":{"type":"text","text":"enc","align":"left","baseline":"middle","fontSize":9,"dx":6,"dy":3.5},
"encoding":{"x":{"field":"tx","type":"quantitative","axis":null},"y":{"field":"y","type":"quantitative","axis":null}}},
{"data":{"name":"leg"},"transform":[{"filter":"datum.p === 1 && datum.eq !== ''"}],"mark":{"type":"text","align":"left","baseline":"middle","fontSize":12,"dx":21},
"encoding":{"x":{"field":"tx","type":"quantitative","axis":null},"y":{"field":"y","type":"quantitative","axis":null},"text":{"field":"eq"}}},
{"data":{"values":[{}]},"mark":{"type":"text","text":"t − t","align":"right","baseline":"alphabetic","fontSize":14},
"encoding":{"x":{"datum":-1400,"type":"quantitative","axis":null},"y":{"datum":-22.2,"type":"quantitative","axis":null}}},
{"data":{"values":[{}]},"mark":{"type":"text","text":"LR","align":"left","baseline":"alphabetic","fontSize":10,"dy":3},
"encoding":{"x":{"datum":-1400,"type":"quantitative","axis":null},"y":{"datum":-22.2,"type":"quantitative","axis":null}}}
],
"resolve":{"axis":{"x":"independent","y":"independent"}}},
{"width":208,"height":271,
"layer":[
{"data":{"name":"orb"},"mark":{"type":"line","interpolate":"monotone","strokeWidth":1.2,"clip":true},
"encoding":{
"x":{"field":"t","type":"quantitative","scale":{"domain":[-3000,0],"nice":false,"zero":false},
"axis":{"orient":"bottom","title":null,"values":[-3000,-2900,-2800,-2700,-2600,-2500,-2400,-2300,-2200,-2100,-2000,-1900,-1800,-1700,-1600,-1500,-1400,-1300,-1200,-1100,-1000,-900,-800,-700,-600,-500,-400,-300,-200,-100,0],"format":"d","labelExpr":"datum.value % 1000 === 0 ? datum.label : ''","tickSize":{"condition":{"test":"datum.value % 1000 === 0","value":-5},"value":-2.5},"labelPadding":5}},
"y":{"field":"rd","type":"quantitative","scale":{"domain":[-0.27,0.273],"nice":false,"zero":false},
"axis":{"orient":"left","title":"ṙ","values":[-0.25,-0.2,-0.15,-0.1,-0.05,0,0.05,0.1,0.15,0.2,0.25],"format":".1f","labelExpr":"abs(datum.value*10 - round(datum.value*10)) < 0.001 ? datum.label : ''","tickSize":{"condition":{"test":"abs(datum.value*10 - round(datum.value*10)) < 0.001","value":-5},"value":-2.5},"labelPadding":2.5,"titlePadding":3}},
"color":{"field":"s","type":"nominal","scale":{"domain":["rad","n1","n2","n3","n4","n5","n6","n7","n8"],"range":["#8a2be2","#4a6cf0","#1ea5ea","#3fe0d4","#76f0a6","#b5e37a","#ffb061","#ff7452","#ff2424"]},"legend":null}}},
{"data":{"name":"mk"},"transform":[{"filter":"datum.k === 'apo'"}],"mark":{"type":"point","shape":"M-1,-1L1,1M-1,1L1,-1","size":26,"strokeWidth":1.3,"filled":false,"opacity":1},
"encoding":{
"x":{"field":"t","type":"quantitative","axis":{"orient":"top","title":null,"labels":false,"minExtent":0,"maxExtent":0,"values":[-3000,-2900,-2800,-2700,-2600,-2500,-2400,-2300,-2200,-2100,-2000,-1900,-1800,-1700,-1600,-1500,-1400,-1300,-1200,-1100,-1000,-900,-800,-700,-600,-500,-400,-300,-200,-100,0],"tickSize":{"condition":{"test":"datum.value % 1000 === 0","value":-5},"value":-2.5}}},
"y":{"field":"rd","type":"quantitative","axis":{"orient":"right","title":null,"labels":false,"minExtent":0,"maxExtent":0,"values":[-0.25,-0.2,-0.15,-0.1,-0.05,0,0.05,0.1,0.15,0.2,0.25],"tickSize":{"condition":{"test":"abs(datum.value*10 - round(datum.value*10)) < 0.001","value":-5},"value":-2.5}}},
"color":{"field":"s","type":"nominal","legend":null}}},
{"data":{"name":"mk"},"transform":[{"filter":"datum.k === 'peri'"}],"mark":{"type":"circle","size":20,"opacity":1},
"encoding":{"x":{"field":"t","type":"quantitative","axis":null},"y":{"field":"rd","type":"quantitative","axis":null},"color":{"field":"s","type":"nominal","legend":null}}},
{"data":{"name":"leg"},"transform":[{"filter":"datum.p === 2"}],"mark":{"type":"rule","strokeWidth":1.5},
"encoding":{"x":{"field":"x1","type":"quantitative","axis":null},"x2":{"field":"x2"},"y":{"field":"y","type":"quantitative","axis":null},"color":{"field":"s","type":"nominal","legend":null}}},
{"data":{"name":"leg"},"transform":[{"filter":"datum.p === 2"}],"mark":{"type":"text","align":"left","baseline":"middle","fontSize":12},
"encoding":{"x":{"field":"tx","type":"quantitative","axis":null},"y":{"field":"y","type":"quantitative","axis":null},"text":{"field":"lab"}}},
{"data":{"name":"leg"},"transform":[{"filter":"datum.p === 2 && datum.eq !== ''"}],"mark":{"type":"text","text":"enc","align":"left","baseline":"middle","fontSize":9,"dx":6,"dy":3.5},
"encoding":{"x":{"field":"tx","type":"quantitative","axis":null},"y":{"field":"y","type":"quantitative","axis":null}}},
{"data":{"name":"leg"},"transform":[{"filter":"datum.p === 2 && datum.eq !== ''"}],"mark":{"type":"text","align":"left","baseline":"middle","fontSize":12,"dx":21},
"encoding":{"x":{"field":"tx","type":"quantitative","axis":null},"y":{"field":"y","type":"quantitative","axis":null},"text":{"field":"eq"}}},
{"data":{"values":[{}]},"mark":{"type":"text","text":"t − t","align":"right","baseline":"alphabetic","fontSize":14},
"encoding":{"x":{"datum":-1400,"type":"quantitative","axis":null},"y":{"datum":-0.314,"type":"quantitative","axis":null}}},
{"data":{"values":[{}]},"mark":{"type":"text","text":"LR","align":"left","baseline":"alphabetic","fontSize":10,"dy":3},
"encoding":{"x":{"datum":-1400,"type":"quantitative","axis":null},"y":{"datum":-0.314,"type":"quantitative","axis":null}}}
],
"resolve":{"axis":{"x":"independent","y":"independent"}}},
{"width":208,"height":271,
"layer":[
{"data":{"name":"orb"},"mark":{"type":"line","interpolate":"monotone","strokeWidth":1.2,"clip":true},
"encoding":{
"x":{"field":"t","type":"quantitative","scale":{"domain":[-3000,0],"nice":false,"zero":false},
"axis":{"orient":"bottom","title":null,"values":[-3000,-2900,-2800,-2700,-2600,-2500,-2400,-2300,-2200,-2100,-2000,-1900,-1800,-1700,-1600,-1500,-1400,-1300,-1200,-1100,-1000,-900,-800,-700,-600,-500,-400,-300,-200,-100,0],"format":"d","labelExpr":"datum.value % 1000 === 0 ? datum.label : ''","tickSize":{"condition":{"test":"datum.value % 1000 === 0","value":-5},"value":-2.5},"labelPadding":5}},
"y":{"field":"pp","type":"quantitative","scale":{"domain":[-0.008,1.006],"nice":false,"zero":false},
"axis":{"orient":"left","title":"pᵩ/r","values":[0,0.1,0.2,0.3,0.4,0.5,0.6,0.7,0.8,0.9,1],"format":".1f","labelExpr":"abs(datum.value*5 - round(datum.value*5)) < 0.001 ? datum.label : ''","tickSize":{"condition":{"test":"abs(datum.value*5 - round(datum.value*5)) < 0.001","value":-5},"value":-2.5},"labelPadding":2.5,"titlePadding":3}},
"color":{"field":"s","type":"nominal","scale":{"domain":["rad","n1","n2","n3","n4","n5","n6","n7","n8"],"range":["#8a2be2","#4a6cf0","#1ea5ea","#3fe0d4","#76f0a6","#b5e37a","#ffb061","#ff7452","#ff2424"]},"legend":null}}},
{"data":{"name":"mk"},"transform":[{"filter":"datum.k === 'apo'"}],"mark":{"type":"point","shape":"M-1,-1L1,1M-1,1L1,-1","size":26,"strokeWidth":1.3,"filled":false,"opacity":1},
"encoding":{
"x":{"field":"t","type":"quantitative","axis":{"orient":"top","title":null,"labels":false,"minExtent":0,"maxExtent":0,"values":[-3000,-2900,-2800,-2700,-2600,-2500,-2400,-2300,-2200,-2100,-2000,-1900,-1800,-1700,-1600,-1500,-1400,-1300,-1200,-1100,-1000,-900,-800,-700,-600,-500,-400,-300,-200,-100,0],"tickSize":{"condition":{"test":"datum.value % 1000 === 0","value":-5},"value":-2.5}}},
"y":{"field":"pp","type":"quantitative","axis":{"orient":"right","title":null,"labels":false,"minExtent":0,"maxExtent":0,"values":[0,0.1,0.2,0.3,0.4,0.5,0.6,0.7,0.8,0.9,1],"tickSize":{"condition":{"test":"abs(datum.value*5 - round(datum.value*5)) < 0.001","value":-5},"value":-2.5}}},
"color":{"field":"s","type":"nominal","legend":null}}},
{"data":{"name":"mk"},"transform":[{"filter":"datum.k === 'peri'"}],"mark":{"type":"circle","size":20,"opacity":1},
"encoding":{"x":{"field":"t","type":"quantitative","axis":null},"y":{"field":"pp","type":"quantitative","axis":null},"color":{"field":"s","type":"nominal","legend":null}}},
{"data":{"name":"leg"},"transform":[{"filter":"datum.p === 3"}],"mark":{"type":"rule","strokeWidth":1.5},
"encoding":{"x":{"field":"x1","type":"quantitative","axis":null},"x2":{"field":"x2"},"y":{"field":"y","type":"quantitative","axis":null},"color":{"field":"s","type":"nominal","legend":null}}},
{"data":{"name":"leg"},"transform":[{"filter":"datum.p === 3"}],"mark":{"type":"text","align":"left","baseline":"middle","fontSize":12},
"encoding":{"x":{"field":"tx","type":"quantitative","axis":null},"y":{"field":"y","type":"quantitative","axis":null},"text":{"field":"lab"}}},
{"data":{"name":"leg"},"transform":[{"filter":"datum.p === 3 && datum.eq !== ''"}],"mark":{"type":"text","text":"enc","align":"left","baseline":"middle","fontSize":9,"dx":6,"dy":3.5},
"encoding":{"x":{"field":"tx","type":"quantitative","axis":null},"y":{"field":"y","type":"quantitative","axis":null}}},
{"data":{"name":"leg"},"transform":[{"filter":"datum.p === 3 && datum.eq !== ''"}],"mark":{"type":"text","align":"left","baseline":"middle","fontSize":12,"dx":21},
"encoding":{"x":{"field":"tx","type":"quantitative","axis":null},"y":{"field":"y","type":"quantitative","axis":null},"text":{"field":"eq"}}},
{"data":{"values":[{}]},"mark":{"type":"text","text":"t − t","align":"right","baseline":"alphabetic","fontSize":14},
"encoding":{"x":{"datum":-1400,"type":"quantitative","axis":null},"y":{"datum":-0.0903,"type":"quantitative","axis":null}}},
{"data":{"values":[{}]},"mark":{"type":"text","text":"LR","align":"left","baseline":"alphabetic","fontSize":10,"dy":3},
"encoding":{"x":{"datum":-1400,"type":"quantitative","axis":null},"y":{"datum":-0.0903,"type":"quantitative","axis":null}}}
],
"resolve":{"axis":{"x":"independent","y":"independent"}}}
],
"config":{
"font":"Liberation Serif",
"view":{"stroke":"#999999","strokeWidth":1},
"axis":{"domain":false,"grid":false,"tickColor":"#999999","labelFont":"Liberation Serif","labelFontSize":12,"labelColor":"#000000","titleFont":"Liberation Serif","titleFontSize":14,"titleFontWeight":"normal","titleColor":"#000000","labelOverlap":false,"labelFlush":false,"ticks":true,"minExtent":0},
"text":{"font":"Liberation Serif","color":"#000000"}
}
}
